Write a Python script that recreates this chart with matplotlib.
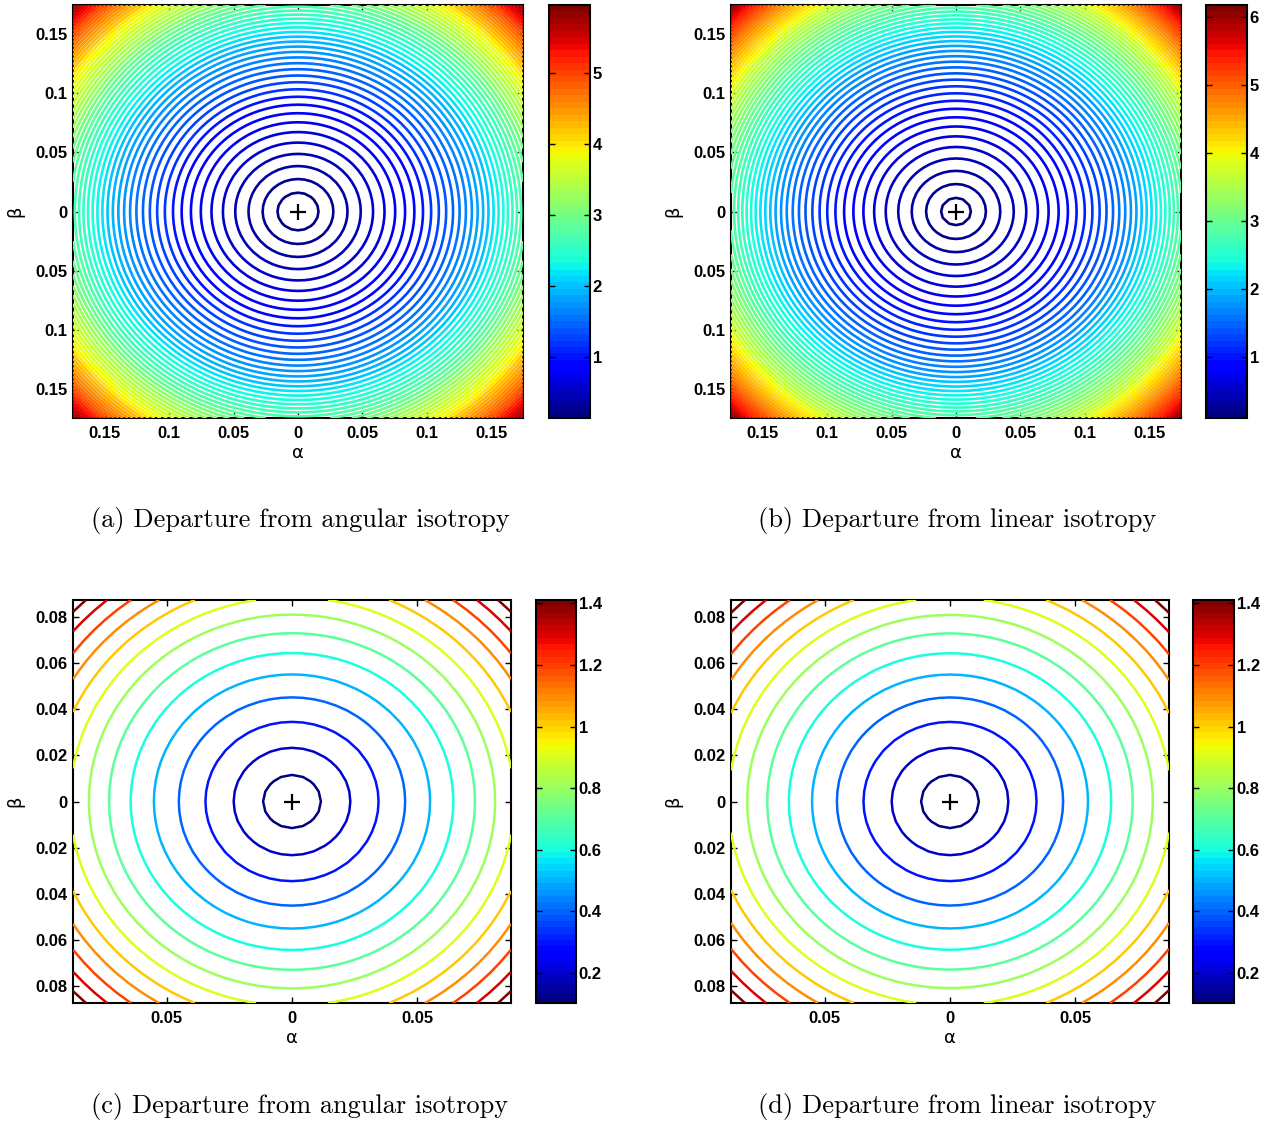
import numpy as np
import matplotlib
matplotlib.use("Agg")
import matplotlib.pyplot as plt
from matplotlib.colors import Normalize
from matplotlib.cm import ScalarMappable
from matplotlib.ticker import FuncFormatter

# axis half-range (rad): 10 deg on the top row, 5 deg on the bottom row
half_range = [0.1745, 0.1745, 0.0873, 0.0873]
n_grid = [71, 71, 41, 41]

# radial profile: f(r) = c0 + c1*r + c3*r^3
c0 = [0.007, 0.004, 0.007, 0.007]
c1 = [8.3, 8.3, 8.3, 8.3]
c3 = [250.0, 268.0, 233.0, 236.0]

# contour levels run from the bottom of the colour range in steps of 0.1
level_step = 0.1
clim_lo = [0.14, 0.10, 0.103, 0.103]
clim_hi = [5.95, 6.18, 1.411, 1.411]

xticks = [[-0.15, -0.1, -0.05, 0, 0.05, 0.1, 0.15]] * 2 + [[-0.05, 0, 0.05]] * 2
yticks = [[-0.15, -0.1, -0.05, 0, 0.05, 0.1, 0.15]] * 2 + \
         [[-0.08, -0.06, -0.04, -0.02, 0, 0.02, 0.04, 0.06, 0.08]] * 2
cbar_ticks = [[1, 2, 3, 4, 5], [1, 2, 3, 4, 5, 6],
              [0.2, 0.4, 0.6, 0.8, 1, 1.2, 1.4], [0.2, 0.4, 0.6, 0.8, 1, 1.2, 1.4]]
captions = ["(a) Departure from angular isotropy", "(b) Departure from linear isotropy",
            "(c) Departure from angular isotropy", "(d) Departure from linear isotropy"]

# pixel boxes (left, top, right, bottom) of plot and colorbar
W, H = 1276, 1123
ax_px = [(73, 5, 523, 418), (731, 5, 1181, 418), (73, 600, 511, 1003), (731, 600, 1169, 1003)]
cb_px = [(549, 5, 590, 418), (1206, 5, 1247, 418), (536, 600, 576, 1003), (1193, 600, 1234, 1003)]
cap_xy = [(300, 520), (957, 520), (300, 1106), (957, 1106)]
line_w = [1.9, 1.9, 1.8, 1.8]


def rect(p):
    l, t, r, b = p
    return [l / W, 1 - b / H, (r - l) / W, (b - t) / H]


tick_font = dict(family=["Liberation Sans", "DejaVu Sans"], weight="bold", size=12)
jet = plt.get_cmap("jet", 64)
fmt = FuncFormatter(lambda v, p: f"{round(abs(v), 4):g}")

fig = plt.figure(figsize=(W / 100, H / 100), dpi=100)

for i in range(4):
    h = half_range[i]
    g = np.linspace(-h, h, n_grid[i])
    A, B = np.meshgrid(g, g)
    R = np.hypot(A, B)
    Z = c0[i] + c1[i] * R + c3[i] * R ** 3
    levels = np.round(np.arange(clim_lo[i], clim_hi[i] + 1e-6, level_step), 3)
    norm = Normalize(clim_lo[i], clim_hi[i])

    ax = fig.add_axes(rect(ax_px[i]))
    ax.contour(A, B, Z, levels=levels, cmap=jet, norm=norm,
               linewidths=line_w[i], zorder=3)
    ax.plot(0, 0, "k+", ms=12, mew=1.6, zorder=4)
    ax.set_xlim(-h, h)
    ax.set_ylim(-h, h)
    ax.set_xticks(xticks[i])
    ax.set_yticks(yticks[i])
    ax.xaxis.set_major_formatter(fmt)
    ax.yaxis.set_major_formatter(fmt)
    ax.tick_params(axis="x", pad=6)
    ax.tick_params(direction="in", top=True, right=True, length=4, width=1)
    ax.tick_params(axis="y", pad=4)
    for lab in ax.get_xticklabels() + ax.get_yticklabels():
        lab.set_fontproperties(tick_font)
    for s in ax.spines.values():
        s.set_linewidth(1.5)
    ax.set_xlabel("α", fontsize=13, labelpad=2)
    ax.set_ylabel("β", fontsize=13, labelpad=8)

    cax = fig.add_axes(rect(cb_px[i]))
    cb = fig.colorbar(ScalarMappable(norm=norm, cmap=jet), cax=cax)
    cb.set_ticks(cbar_ticks[i])
    cb.ax.yaxis.set_major_formatter(fmt)
    cb.ax.minorticks_off()
    cb.outline.set_linewidth(1.5)
    cax.tick_params(direction="in", left=True, right=True, labelleft=False,
                    labelright=True, length=4, width=1, pad=2)
    for lab in cax.get_yticklabels():
        lab.set_fontproperties(tick_font)

    cx, cy = cap_xy[i]
    fig.text(cx / W, 1 - cy / H, captions[i], ha="center", va="center",
             family="cmr10", fontsize=19)

fig.savefig("out.png", dpi=100)
